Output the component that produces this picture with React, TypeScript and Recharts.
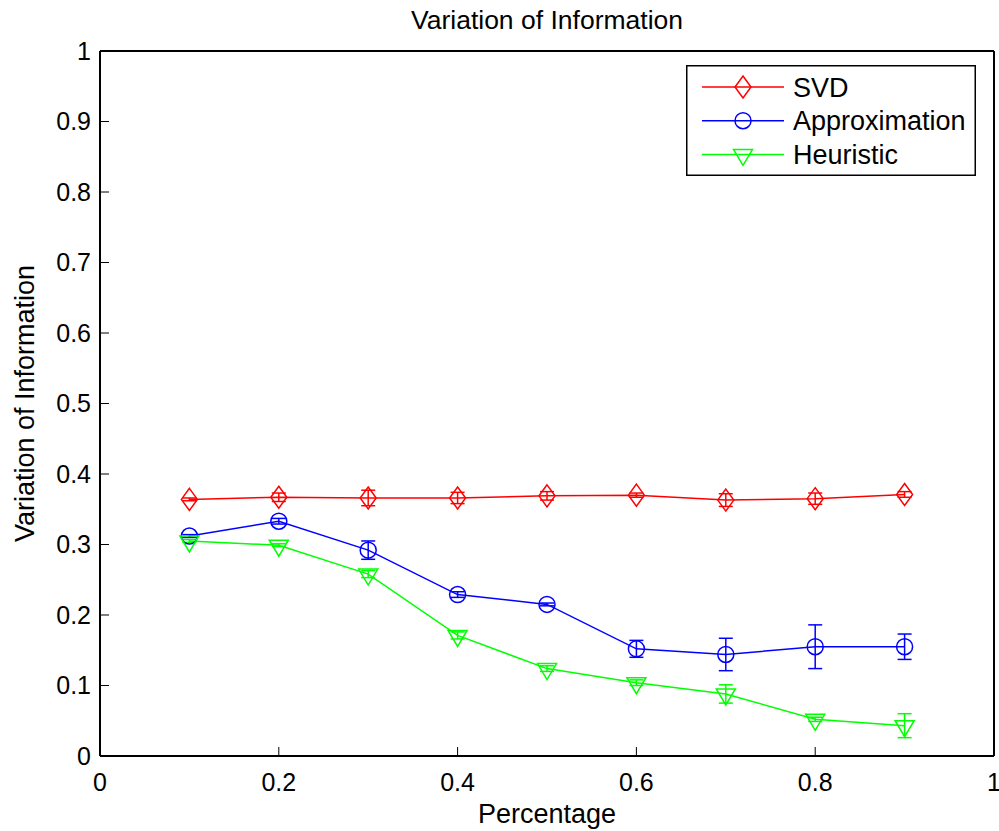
import React from 'react';
import { ComposedChart, Line, XAxis, YAxis, ErrorBar, Legend, Label } from 'recharts';

const percentages = [0.1, 0.2, 0.3, 0.4, 0.5, 0.6, 0.7, 0.8, 0.9];
const svdValues = [0.364, 0.367, 0.366, 0.366, 0.369, 0.370, 0.363, 0.365, 0.371];
const svdErrors = [0.002, 0.006, 0.011, 0.008, 0.006, 0.003, 0.009, 0.008, 0.004];
const approxValues = [0.312, 0.333, 0.292, 0.229, 0.215, 0.152, 0.144, 0.155, 0.155];
const approxErrors = [0.002, 0.004, 0.013, 0.004, 0.002, 0.012, 0.023, 0.031, 0.018];
const heuristicValues = [0.305, 0.299, 0.258, 0.171, 0.124, 0.104, 0.088, 0.052, 0.043];
const heuristicErrors = [0.002, 0.002, 0.005, 0.005, 0.004, 0.004, 0.013, 0.003, 0.017];
const xTicks = [0, 0.2, 0.4, 0.6, 0.8, 1];
const yTicks = [0, 0.1, 0.2, 0.3, 0.4, 0.5, 0.6, 0.7, 0.8, 0.9, 1];
const seriesNames = ['SVD', 'Approximation', 'Heuristic'];
const titleText = 'Variation of Information';
const xLabelText = 'Percentage';
const yLabelText = 'Variation of Information';

const data = percentages.map((x, i) => ({
  x,
  svd: svdValues[i],
  svdErr: svdErrors[i],
  approx: approxValues[i],
  approxErr: approxErrors[i],
  heur: heuristicValues[i],
  heurErr: heuristicErrors[i],
}));

const FONT = "'Liberation Sans', Arial, Helvetica, sans-serif";
const RED = '#ff0000';
const BLUE = '#0000ff';
const GREEN = '#00ff00';
const MW = 1.5;

const Diamond = ({ cx, cy, color }: any) => (
  <path d={`M${cx},${cy - 11}L${cx + 8},${cy}L${cx},${cy + 11}L${cx - 8},${cy}Z`} fill="none" stroke={color} strokeWidth={MW} />
);
const Circle = ({ cx, cy, color }: any) => (
  <circle cx={cx} cy={cy} r={8} fill="none" stroke={color} strokeWidth={MW} />
);
const TriDown = ({ cx, cy, color }: any) => (
  <path d={`M${cx - 9.5},${cy - 5}L${cx + 9.5},${cy - 5}L${cx},${cy + 11}Z`} fill="none" stroke={color} strokeWidth={MW} />
);

const makeDot = (Shape: any, color: string) => (props: any) => {
  const { cx, cy, index } = props;
  if (cx == null || cy == null) return <g key={`d-${index}`} />;
  return <Shape key={`d-${color}-${index}`} cx={cx} cy={cy} color={color} />;
};

const LegendBox = () => {
  const rows = [
    { name: seriesNames[0], color: RED, Shape: Diamond },
    { name: seriesNames[1], color: BLUE, Shape: Circle },
    { name: seriesNames[2], color: GREEN, Shape: TriDown },
  ];
  return (
    <svg width={290} height={111} style={{ display: 'block' }}>
      <rect x={0.75} y={0.75} width={288.5} height={109.5} fill="#fff" stroke="#000" strokeWidth={1.5} />
      {rows.map((r, i) => {
        const cy = 22 + i * 33.7;
        return (
          <g key={r.name}>
            <line x1={16} x2={98} y1={cy} y2={cy} stroke={r.color} strokeWidth={1.5} />
            <r.Shape cx={57} cy={cy} color={r.color} />
            <text x={107} y={cy + 9.5} fontSize={27} fontFamily={FONT} fill="#000">{r.name}</text>
          </g>
        );
      })}
    </svg>
  );
};

const axisLine = { stroke: '#000', strokeWidth: 2 };
const tickLine = { stroke: '#000', strokeWidth: 1 };
const tickStyle = { fill: '#000', fontSize: 25, fontFamily: FONT };

export default function App() {
  return (
    <div style={{ position: 'absolute', left: 0, top: 0, width: 999, height: 831, background: '#fff', overflow: 'hidden' }}>
      <ComposedChart width={999} height={831} data={data} margin={{ top: 1, right: 4, bottom: 0, left: 0 }}>
        <XAxis
          dataKey="x"
          type="number"
          domain={[0, 1]}
          ticks={xTicks}
          height={75}
          axisLine={axisLine}
          tickLine={tickLine}
          tickSize={-9}
          tickMargin={26}
          tick={tickStyle}
          interval={0}
        >
          <Label
            content={(p: any) => {
              const vb = p.viewBox || {};
              return (
                <text x={vb.x + vb.width / 2} y={822.5} textAnchor="middle" fontSize={27} fontFamily={FONT} fill="#000">
                  {xLabelText}
                </text>
              );
            }}
          />
        </XAxis>
        <XAxis
          xAxisId="top"
          orientation="top"
          type="number"
          domain={[0, 1]}
          ticks={xTicks}
          height={50}
          axisLine={axisLine}
          tickLine={tickLine}
          tickSize={-9}
          tick={false}
          interval={0}
        >
          <Label
            content={(p: any) => {
              const vb = p.viewBox || {};
              return (
                <text x={vb.x + vb.width / 2} y={28.5} textAnchor="middle" fontSize={26.5} fontFamily={FONT} fill="#000">
                  {titleText}
                </text>
              );
            }}
          />
        </XAxis>
        <YAxis
          type="number"
          domain={[0, 1]}
          ticks={yTicks}
          width={100}
          axisLine={axisLine}
          tickLine={tickLine}
          tickSize={-9}
          tickMargin={18}
          tick={tickStyle}
          interval={0}
        >
          <Label
            content={(p: any) => {
              const vb = p.viewBox || {};
              const cy = vb.y + vb.height / 2;
              const bx = 33.5;
              return (
                <text x={bx} y={cy} transform={`rotate(-90, ${bx}, ${cy})`} textAnchor="middle" fontSize={27} fontFamily={FONT} fill="#000">
                  {yLabelText}
                </text>
              );
            }}
          />
        </YAxis>
        <YAxis
          yAxisId="right"
          orientation="right"
          type="number"
          domain={[0, 1]}
          ticks={yTicks}
          width={1}
          axisLine={axisLine}
          tickLine={tickLine}
          tickSize={-9}
          tick={false}
          interval={0}
        />
        <Legend
          layout="vertical"
          align="center"
          verticalAlign="middle"
          content={() => <LegendBox />}
          wrapperStyle={{ left: 686, top: 64.5, width: 290, height: 111, position: 'absolute' }}
        />
        <Line
          dataKey="svd"
          name={seriesNames[0]}
          stroke={RED}
          strokeWidth={1.5}
          dot={makeDot(Diamond, RED)}
          activeDot={false}
          isAnimationActive={false}
        >
          <ErrorBar dataKey="svdErr" direction="y" width={7} stroke={RED} strokeWidth={1.5} isAnimationActive={false} />
        </Line>
        <Line
          dataKey="approx"
          name={seriesNames[1]}
          stroke={BLUE}
          strokeWidth={1.5}
          dot={makeDot(Circle, BLUE)}
          activeDot={false}
          isAnimationActive={false}
        >
          <ErrorBar dataKey="approxErr" direction="y" width={7} stroke={BLUE} strokeWidth={1.5} isAnimationActive={false} />
        </Line>
        <Line
          dataKey="heur"
          name={seriesNames[2]}
          stroke={GREEN}
          strokeWidth={1.5}
          dot={makeDot(TriDown, GREEN)}
          activeDot={false}
          isAnimationActive={false}
        >
          <ErrorBar dataKey="heurErr" direction="y" width={7} stroke={GREEN} strokeWidth={1.5} isAnimationActive={false} />
        </Line>
      </ComposedChart>
    </div>
  );
}
